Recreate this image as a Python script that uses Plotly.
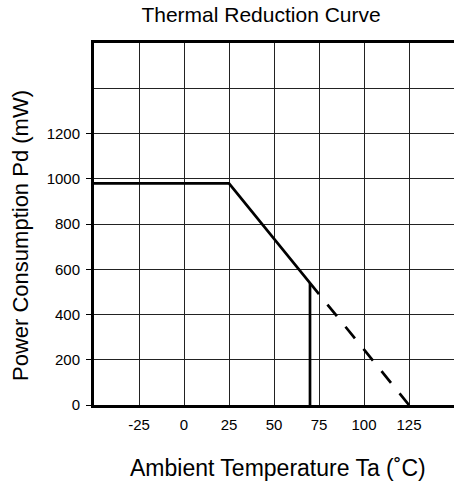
import plotly.graph_objects as go

# Derating curve breakpoints
temps = [-50, 25, 75, 125]
power = [980, 980, 490, 0]
# Operating point marker line
op_temp = [70, 70]
op_power = [0, 539]

x_tickvals = [-25, 0, 25, 50, 75, 100, 125]
x_ticktext = ["-25", "0", "25", "50", "75", "100", "125"]
y_tickvals = [0, 200, 400, 600, 800, 1000, 1200]
y_ticktext = ["0", "200", "400", "600", "800", "1000", "1200"]
y_extra_grid = [1400, 1600]

FONT = "Liberation Sans, Arial, sans-serif"
W, H = 454, 486
ML, MR, MT, MB = 94, 0, 43, 81
PW, PH = W - ML - MR, H - MT - MB

fig = go.Figure()
fig.add_trace(go.Scatter(x=temps[:3], y=power[:3], mode="lines",
                         line=dict(color="black", width=2.7), showlegend=False))
# dashed part drawn from the end so the pattern finishes on a dash at 125
fig.add_trace(go.Scatter(x=temps[2:][::-1], y=power[2:][::-1], mode="lines",
                         line=dict(color="black", width=2.7, dash="15px,13.6px"), showlegend=False))
fig.add_trace(go.Scatter(x=op_temp, y=op_power, mode="lines",
                         line=dict(color="black", width=2.7), showlegend=False))

fig.update_layout(
    width=W, height=H,
    margin=dict(l=ML, r=MR, t=MT, b=MB),
    plot_bgcolor="white", paper_bgcolor="white",
    font=dict(family=FONT, color="black", size=15),
    title=dict(text="Thermal Reduction Curve", x=0.575, xanchor="center",
               y=1 - 15 / H, yanchor="middle", font=dict(size=21, family=FONT, color="black")),
    xaxis=dict(range=[-50, 150], tickvals=x_tickvals, ticktext=x_ticktext,
               showgrid=True, gridcolor="#222", gridwidth=1,
               showline=True, linecolor="black", linewidth=3, mirror=True,
               zeroline=False, ticks="", tickfont=dict(size=15),
               ticklabelstandoff=4),
    yaxis=dict(range=[0, 1600], tickvals=y_tickvals, ticktext=y_ticktext,
               showgrid=True, gridcolor="#222", gridwidth=1,
               showline=True, linecolor="black", linewidth=3,
               zeroline=False, ticks="outside", ticklen=5, tickwidth=1, tickcolor="black",
               tickfont=dict(size=15), ticklabelstandoff=3,
               minor=dict(tickmode="array", tickvals=y_extra_grid, showgrid=True,
                          gridcolor="#222", gridwidth=1, ticks="")),
    annotations=[
        dict(text="Ambient Temperature Ta (˚C)", xref="paper", yref="paper",
             x=(278 - ML) / PW, y=(H - MB - 468) / PH, xanchor="center", yanchor="middle",
             showarrow=False, font=dict(size=23, family=FONT, color="black")),
        dict(text="Power Consumption Pd (mW)", xref="paper", yref="paper",
             x=(20 - ML) / PW, y=(H - MB - 236) / PH, xanchor="center", yanchor="middle",
             textangle=-90, showarrow=False, font=dict(size=22, family=FONT, color="black")),
    ],
)

fig.write_html("out.html")
